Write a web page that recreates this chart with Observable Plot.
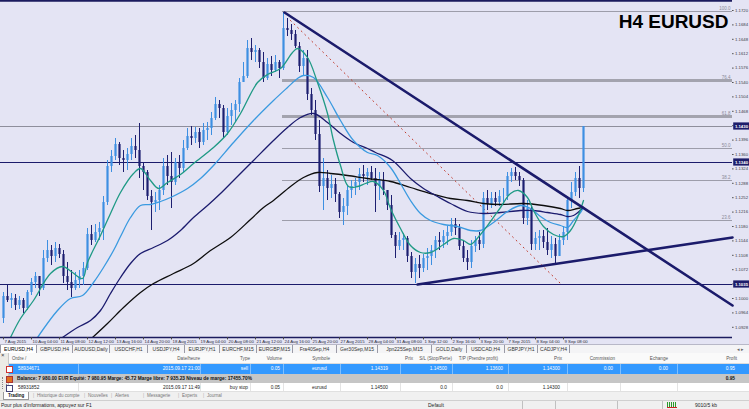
<!DOCTYPE html>
<html><head><meta charset="utf-8">
<script src="https://cdn.jsdelivr.net/npm/d3@7"></script>
<script src="https://cdn.jsdelivr.net/npm/@observablehq/plot@0.6"></script>
<style>
body{margin:0;width:749px;height:409px;overflow:hidden;background:#fff;font-family:"Liberation Sans",Arial,sans-serif;}
#chart svg{display:block}
.abs{position:absolute;white-space:nowrap}
#tabs{position:relative;height:9px;background:#f4f4f6;border-top:1px solid #b8b8c8;box-sizing:border-box;font-size:5px;color:#333}
.tab{position:absolute;top:0;height:8px;line-height:8px;border-right:1px solid #9a9aa6;text-align:center;box-sizing:border-box;overflow:hidden}
.tab.on{background:#fff;border-left:1px solid #9a9aa6;color:#000}
#term{position:relative;height:47px;background:#fff;font-size:4.8px;color:#222}
.side{position:absolute;left:0;top:0;width:8px;height:47px;background:#ecebe6;border-right:1px solid #c8c8c8}
.r{position:absolute;left:9px;right:0}
.hdr{top:0;height:11px;background:#fafafa;border-bottom:1px solid #dcdcdc;color:#555;line-height:11px;box-sizing:border-box;font-size:4.6px}
.sel{top:11px;height:10px;background:#3399ff;color:#fff;line-height:10px}
.bal{top:21px;height:9px;background:#c6c6c6;font-weight:bold;line-height:9px;color:#111}
.w3{top:30px;height:9px;background:#fff;line-height:9px;border-bottom:1px solid #e0e0e0;box-sizing:border-box}
.bt{top:39px;height:8px;background:#f0f0f0;line-height:8px;color:#777;font-size:4.5px}
.sep{position:absolute;top:0;bottom:0;width:1px}
#status{position:relative;height:9px;background:#f0f0f0;border-top:1px solid #d0d0d0;box-sizing:border-box;font-size:5px;line-height:8px;color:#222}
</style></head><body>
<div id="chart"></div>
<div id="tabs"></div>
<div id="term"></div>
<div id="status"></div>
<script>
// ---------- DATA ----------
const open0 = 1.0950;
const high = [1.1015,1.1035,1.10125,1.1010,1.1005,1.1000,1.1020,1.1050,1.1065,1.1055,
1.1120,1.1145,1.11325,1.1140,1.1135,1.1120,1.1090,1.1070,1.1065,1.1070,
1.1090,1.1175,1.11825,1.1185,1.1190,1.1255,1.1345,1.1370,1.1400,1.1390,
1.1370,1.1375,1.1400,1.14075,1.14375,1.1340,1.1320,1.1270,1.1265,1.12825,
1.1350,1.13575,1.1365,1.1350,1.13575,1.1395,1.1425,1.1430,1.14275,1.1425,
1.14375,1.1440,1.1465,1.15025,1.1495,1.14825,1.1475,1.14875,1.1495,1.1550,
1.1590,1.1645,1.1650,1.16325,1.1625,1.1615,1.1600,1.1605,1.16075,1.1595,
1.1715,1.1700,1.1685,1.1670,1.1640,1.1620,1.1620,1.1525,1.1495,1.1445,
1.1350,1.1320,1.13075,1.1300,1.1265,1.1250,1.12825,1.1295,1.1300,1.1325,
1.13325,1.1325,1.1330,1.1325,1.1315,1.1315,1.1270,1.12575,1.1165,1.1165,
1.11625,1.1155,1.1115,1.1100,1.11075,1.1110,1.1125,1.11325,1.1155,1.1165,
1.1170,1.1180,1.1200,1.1200,1.1185,1.1145,1.1120,1.1145,1.1155,1.1165,
1.1265,1.1270,1.1265,1.1265,1.1270,1.1275,1.1315,1.1325,1.13275,1.1315,
1.1300,1.1245,1.1230,1.1165,1.1170,1.1170,1.1175,1.1155,1.1150,1.1160,
1.1180,1.1255,1.1290,1.1315,1.1330,1.1430];
const low = [1.09375,1.0990,1.0975,1.0970,1.09725,1.09625,1.0970,1.10075,1.1025,1.1005,
1.1020,1.1090,1.10825,1.1090,1.1100,1.10375,1.1020,1.10025,1.1020,1.1025,
1.10325,1.1070,1.11325,1.1140,1.1145,1.1145,1.12325,1.1315,1.1345,1.13325,
1.1315,1.1320,1.1345,1.1350,1.1300,1.1270,1.1245,1.1170,1.1215,1.1220,
1.12575,1.12825,1.1225,1.12825,1.1300,1.1315,1.1370,1.13825,1.13875,1.1375,
1.13825,1.1395,1.14075,1.1445,1.1450,1.1400,1.14075,1.14325,1.1440,1.1465,
1.1540,1.1550,1.1595,1.1590,1.1575,1.1540,1.1545,1.1555,1.1565,1.1550,
1.1570,1.1655,1.1645,1.1625,1.1565,1.15575,1.1495,1.14575,1.1395,1.1265,
1.1220,1.1245,1.1250,1.1240,1.1200,1.11825,1.12075,1.1250,1.12575,1.1270,
1.1290,1.12825,1.1295,1.1215,1.1245,1.12575,1.1220,1.1150,1.1100,1.1120,
1.1120,1.1090,1.1050,1.10375,1.1050,1.1065,1.1070,1.10825,1.1100,1.1120,
1.1125,1.11325,1.1155,1.11575,1.1120,1.1090,1.1070,1.1075,1.1115,1.1120,
1.1125,1.1220,1.1225,1.1230,1.1230,1.1235,1.1245,1.1290,1.1295,1.1280,
1.1185,1.11825,1.1120,1.1120,1.1120,1.1125,1.11075,1.1100,1.10875,1.11075,
1.11325,1.1145,1.1225,1.1255,1.1250,1.1265];
const close = [1.1005,1.0995,1.1000,1.09825,1.0995,1.0975,1.1015,1.1040,1.1055,1.1025,
1.1100,1.1120,1.1105,1.1125,1.1110,1.1055,1.1040,1.1025,1.1045,1.1055,
1.1075,1.1160,1.1145,1.1165,1.1175,1.1240,1.1330,1.1355,1.1385,1.1350,
1.1345,1.1360,1.1380,1.1370,1.1330,1.1315,1.1255,1.1240,1.1245,1.1270,
1.1330,1.1305,1.1290,1.1340,1.1325,1.1375,1.1405,1.1400,1.1415,1.1390,
1.1420,1.1425,1.1450,1.1485,1.1475,1.1415,1.1455,1.1470,1.1485,1.1540,
1.1555,1.1625,1.1615,1.1620,1.1590,1.1550,1.1585,1.1570,1.1590,1.1575,
1.1675,1.1670,1.1660,1.1630,1.1580,1.1600,1.1510,1.1470,1.1410,1.1280,
1.1300,1.1275,1.1285,1.1260,1.1215,1.1230,1.1270,1.1280,1.1290,1.1310,
1.1305,1.1315,1.1300,1.1280,1.1295,1.1270,1.12325,1.11575,1.1130,1.1145,
1.1150,1.1105,1.1065,1.1085,1.1075,1.1100,1.1105,1.1120,1.1145,1.1140,
1.1155,1.1165,1.1185,1.1175,1.1130,1.1100,1.1090,1.1130,1.1145,1.1135,
1.1250,1.1235,1.1250,1.1240,1.1255,1.1255,1.1305,1.1315,1.1305,1.1295,
1.1200,1.1225,1.1135,1.1150,1.1155,1.1140,1.1120,1.1135,1.1105,1.1145,
1.1165,1.1245,1.1265,1.1300,1.1275,1.1430];

// moving averages: [bar index, price]
const maFast = [[1.75,1.09025],[4.25,1.0950],[7.5,1.0995],[11.75,1.10625],[14.75,1.1080],[17.25,1.1065],[19.75,1.1050],[21,1.1090],[24.25,1.11575],[26.75,1.12125],[29.25,1.1265],[32.5,1.13125],[34.25,1.1325],[36.75,1.1295],[38.75,1.1275],[41,1.1290],[44.25,1.1310],[47.5,1.13375],[52.5,1.13775],[56,1.14125],[59.25,1.14625],[63.5,1.1540],[66,1.1560],[69.25,1.1575],[72.25,1.1615],[73.5,1.1625],[76,1.16025],[78.5,1.1540],[81,1.14625],[82.5,1.1395],[84.25,1.13325],[86.25,1.1280],[88.5,1.1280],[90.5,1.12875],[92.5,1.12925],[95,1.1270],[96.75,1.1225],[99.25,1.1175],[101.75,1.11325],[104.25,1.1115],[106.75,1.1115],[110,1.1135],[112.5,1.1150],[115,1.1145],[116.75,1.1135],[119.25,1.1160],[121.75,1.11925],[124.25,1.12275],[126.75,1.12625],[128.75,1.1270],[131,1.12525],[132.5,1.1220],[135,1.1180],[137.5,1.1160],[140,1.1155],[141.75,1.1170],[143.5,1.12025],[145,1.1245]];
const maMid = [[8.5,1.09025],[13.5,1.0970],[16.75,1.1000],[19.75,1.10075],[22.5,1.1040],[25,1.10775],[27.5,1.1120],[29.25,1.1155],[31.75,1.12025],[34.25,1.12325],[36.75,1.1235],[39.25,1.12425],[41.75,1.12525],[46,1.1275],[49.25,1.1300],[52.5,1.13325],[57.5,1.1390],[62.5,1.1445],[67.5,1.1495],[71,1.15275],[73.5,1.1550],[75,1.15575],[77.5,1.15525],[81,1.15025],[84.25,1.1445],[87.5,1.1395],[91,1.1365],[93.5,1.13575],[96.75,1.13275],[99.25,1.12875],[101.75,1.1245],[104.25,1.12125],[106.75,1.1195],[110,1.1185],[113.5,1.1180],[116.75,1.1170],[119.25,1.1170],[122.5,1.1190],[126,1.12175],[129.25,1.12325],[131.75,1.1225],[134.25,1.1205],[136.75,1.1190],[139.25,1.11825],[141,1.11775],[142.5,1.1195],[144.25,1.1215],[145,1.12275]];
const maSlow = [[14.75,1.09025],[18.5,1.09275],[21.75,1.0945],[24.25,1.0970],[26.75,1.10125],[29.25,1.10525],[31.75,1.10875],[34.25,1.11125],[37.5,1.11275],[41,1.1145],[44.25,1.1170],[47.5,1.12025],[51,1.12325],[54.25,1.12625],[57.5,1.1295],[62.5,1.1345],[67.5,1.1395],[71,1.14275],[74.25,1.14525],[77.5,1.14625],[81,1.1440],[84.25,1.14125],[87.5,1.1390],[91,1.1375],[93,1.1365],[97.25,1.1345],[101.75,1.1300],[105,1.1275],[108.5,1.1255],[111.75,1.12375],[116,1.12175],[120,1.12125],[124.25,1.1215],[129.25,1.1220],[132.5,1.1220],[136,1.1215],[139.25,1.1210],[141,1.1205],[142.5,1.12075],[145,1.12275]];
const maLong = [[22.25,1.09025],[26,1.09375],[30,1.09775],[34.25,1.1015],[37.5,1.10375],[42.5,1.10625],[47.5,1.10875],[51.75,1.1120],[56.75,1.11525],[61.75,1.11975],[65,1.12275],[67.5,1.1245],[71.75,1.1280],[75,1.13025],[78.5,1.1315],[81.75,1.13125],[86,1.13075],[91,1.1300],[96.75,1.12925],[101.75,1.12775],[106.75,1.12625],[111.75,1.1250],[116,1.1245],[120,1.12375],[124.25,1.1235],[130,1.12375],[135,1.12325],[139.25,1.1225],[141,1.1220],[143.5,1.1225],[145,1.12275]];

const trendDown = [[70.25,1.1715],[182.25,1.09825]];
const trendUp = [[103.5,1.1035],[182.25,1.11525]];
const fanLine = [[71.75,1.1695],[139.25,1.10375]];

const fibLevels = [1.17175,1.1545,1.1455,1.1375,1.1295,1.1195];
const fibLabels = ["100.0","76.4","61.8","50.0","38.2","23.6"];
const fibStartBar = 69.75;
const bidPrice = 1.1430;
const hLines = [1.1340,1.1035];
const priceTicks = [1.1720,1.1684,1.1648,1.1612,1.1576,1.1540,1.1504,1.1468,1.1432,1.1396,1.1360,1.1324,1.1288,1.1252,1.1216,1.1180,1.1144,1.1108,1.1072,1.1036,1.1000,1.0964,1.0928];
const timeTickBars = [0,7,14,21,28,35,42,49,56,63,70,77,84,91,98,105,112,119,126,133,140];
const timeTickLabels = ["7 Aug 2015","10 Aug 04:00","11 Aug 08:00","12 Aug 12:00","13 Aug 16:00","14 Aug 20:00","18 Aug 2015","19 Aug 04:00","20 Aug 08:00","21 Aug 12:00","24 Aug 16:00","25 Aug 20:00","27 Aug 2015","28 Aug 04:00","31 Aug 08:00","1 Sep 12:00","2 Sep 16:00","3 Sep 20:00","7 Sep 2015","8 Sep 04:00","9 Sep 08:00"];
const chartTitle = "H4 EURUSD";

const symbolTabs = ["EURUSD,H4","GBPUSD,H4","AUDUSD,Daily","USDCHF,H1","USDJPY,H4","EURJPY,H1","EURCHF,M15","EURGBP,M15","Fra40Sep,H4","Ger30Sep,M15","Jpn225Sep,M15","GOLD,Daily","USDCAD,H4","GBPJPY,H1","CADJPY,H4"];
const headerTexts = ["Ordre  /","Date/heure","Type","Volume","Symbole","Prix","S/L (Stop/Perte)","T/P (Prendre profit)","Prix","Commission","Echange","Profit"];
const row1 = ["58934671","2015.09.17 21:00","sell","0.05","eurusd","1.14319","1.14500","1.13600","1.14300","0.00","0.00","0.95"];
const row3 = ["58931852","2015.09.17 11:49","buy stop","0.05","eurusd","1.14500","0.0","0.0","1.14300","","",""];
const balanceText = "Balance: 7 980.00 EUR  Equité: 7 980.95  Marge: 45.72  Marge libre: 7 935.23  Niveau de marge: 17455.70%";
const balanceProfit = "0.95";
const bottomTabs = ["Trading","Historique du compte","Nouvelles","Alertes","Messagerie","Experts","Journal"];
const statusTexts = ["Pour plus d'informations, appuyez sur F1","Default","9010/5 kb"];

// ---------- CHART ----------
const BG = "#E4E4F4", UP = "#3d8fe2", DOWN = "#1d1f70", NAVY = "#1b1b6b";
const bars = high.map((h, i) => ({i, high: h, low: low[i], close: close[i], open: i === 0 ? open0 : close[i - 1]}));
const upBars = bars.filter(d => d.close >= d.open);
const downBars = bars.filter(d => d.close < d.open);
const xMin = -0.75, xMax = 182.25, yMin = 1.09025, yMax = 1.1745;
const thick = new Set(["76.4","61.8"]);
const fib = fibLevels.map((v, i) => ({v, label: fibLabels[i]}));
const P = d => d[0], V = d => d[1];

const chart = Plot.plot({
  width: 749, height: 344,
  marginLeft: 0, marginRight: 17, marginTop: 0, marginBottom: 7,
  x: {domain: [xMin, xMax], axis: null},
  y: {domain: [yMin, yMax], axis: null},
  style: {background: BG, fontFamily: "Liberation Sans, Arial, sans-serif", overflow: "hidden"},
  marks: [
    Plot.ruleY(fib.filter(d => !thick.has(d.label)), {y: "v", x1: fibStartBar, x2: xMax, stroke: "#9d9daa", strokeWidth: 1}),
    Plot.ruleY(fib.filter(d => thick.has(d.label)), {y: "v", x1: fibStartBar, x2: xMax, stroke: "#a3a3ae", strokeWidth: 3}),
    Plot.ruleY([bidPrice], {stroke: "#8e8e9c", strokeWidth: 1}),
    Plot.ruleY(hLines, {stroke: NAVY, strokeWidth: 1.2}),
    Plot.line(fanLine, {x: P, y: V, stroke: "#c0392b", strokeWidth: 1, strokeDasharray: "1,4"}),
    Plot.ruleX(upBars, {x: "i", y1: "low", y2: "high", stroke: UP, strokeWidth: 1}),
    Plot.ruleX(downBars, {x: "i", y1: "low", y2: "high", stroke: DOWN, strokeWidth: 1}),
    Plot.ruleX(upBars, {x: "i", y1: "open", y2: "close", stroke: UP, strokeWidth: 2.2}),
    Plot.ruleX(downBars, {x: "i", y1: "open", y2: "close", stroke: DOWN, strokeWidth: 2.2}),
    Plot.line(maLong, {x: P, y: V, stroke: "#0d0d0d", strokeWidth: 1.3, curve: "catmull-rom", clip: true}),
    Plot.line(maSlow, {x: P, y: V, stroke: "#1b1b6e", strokeWidth: 1.3, curve: "catmull-rom", clip: true}),
    Plot.line(maMid, {x: P, y: V, stroke: "#3a9ae0", strokeWidth: 1.3, curve: "catmull-rom", clip: true}),
    Plot.line(maFast, {x: P, y: V, stroke: "#1f9a85", strokeWidth: 1.3, curve: "catmull-rom", clip: true}),
    Plot.line(trendDown, {x: P, y: V, stroke: NAVY, strokeWidth: 2.6}),
    Plot.line(trendUp, {x: P, y: V, stroke: NAVY, strokeWidth: 2.6}),
    Plot.ruleY([yMin], {stroke: "#1b1b5e", strokeWidth: 1.5}),
    Plot.ruleY([yMax], {stroke: "#1b1b5e", strokeWidth: 2.5}),
    Plot.text(fib, {x: xMax, y: "v", text: "label", dx: -2, dy: -3, textAnchor: "end", fontSize: 4.5, fill: "#8a8a98"}),
    Plot.ruleY(priceTicks, {x1: xMax, x2: xMax + 0.4, stroke: "#555"}),
    Plot.text(priceTicks, {x: xMax, y: d => d, text: d => d.toFixed(4), dx: 2.5, textAnchor: "start", fontSize: 4.3, fill: "#3a3a48"}),
    Plot.rect([bidPrice, ...hLines], {x1: xMax + 0.3, x2: xMax + 4.25, y1: d => d - 0.0009, y2: d => d + 0.0009, fill: "#1d1d6a"}),
    Plot.text([bidPrice, ...hLines], {x: xMax + 0.3, y: d => d, text: d => d.toFixed(4), dx: 1.2, textAnchor: "start", fontSize: 4.3, fill: "#fff", fontWeight: "bold"}),
    Plot.ruleX(timeTickBars, {x: d => d, y1: yMin, y2: yMin - 0.0006, stroke: "#444"}),
    Plot.text(timeTickBars, {x: d => d, y: yMin, text: (d, i) => timeTickLabels[i], dx: 1, dy: 3.8, textAnchor: "start", lineAnchor: "middle", fontSize: 4.3, fill: "#2a2a3a"}),
    Plot.text([chartTitle], {frameAnchor: "top-right", text: d => d, dx: -4, dy: 21, textAnchor: "end", lineAnchor: "middle", fontSize: 19, fontWeight: "bold", fill: "#000"})
  ]
});
document.getElementById("chart").appendChild(chart);

// ---------- TERMINAL (HTML) ----------
const tabX = [0,37,73,110,148,185,220,257,293,337,378,432,467,505,538,570];
document.getElementById("tabs").innerHTML =
  symbolTabs.map((t, i) => `<div class="tab${i === 0 ? " on" : ""}" style="left:${tabX[i]}px;width:${tabX[i+1]-tabX[i]}px">${t}</div>`).join("") +
  `<div class="abs" style="left:737px;top:0;line-height:8px;color:#666">◂ ▸</div>`;

const cell = (t, x, a) => a === "l"
  ? `<span class="abs" style="left:${x - 9}px">${t}</span>`
  : `<span class="abs" style="right:${749 - x}px">${t}</span>`;
const hdrPos = [[12,"l"],[200,"r"],[250,"r"],[282,"r"],[330,"r"],[413,"r"],[452,"r"],[498,"r"],[562,"r"],[615,"r"],[668,"r"],[737,"r"]];
const rowPos = [[18,"l"],[200,"r"],[248,"r"],[280,"r"],[312,"l"],[388,"r"],[447,"r"],[503,"r"],[560,"r"],[613,"r"],[668,"r"],[735,"r"]];
const seps = [78,200,250,283,340,400,452,508,567,620,677];
const sepHtml = col => seps.map(x => `<div class="sep" style="left:${x - 9}px;background:${col}"></div>`).join("");
const icon = (c1, c2) => `<span class="abs" style="left:-3px;top:2px;width:5px;height:5px;background:${c1};border:1px solid ${c2}"></span>`;

const btX = [3,37,88,115,147,182,207];
document.getElementById("term").innerHTML = `
<div class="side"><div class="abs" style="left:1px;top:-1px;font-size:6px;color:#333">×</div>
<div class="abs" style="left:2px;top:24px;width:3px;height:12px;border-left:1px dotted #888;border-right:1px dotted #888"></div></div>
<div class="r hdr">${headerTexts.map((t, i) => cell(t, hdrPos[i][0], hdrPos[i][1])).join("")}</div>
<div class="r sel">${sepHtml("#7fbfff")}${icon("#fff","#c33")}${row1.map((t, i) => cell(t, rowPos[i][0], rowPos[i][1])).join("")}</div>
<div class="r bal">${icon("#e07020","#a33")}<span class="abs" style="left:8px;font-size:4.8px">${balanceText}</span>${cell(balanceProfit, 735, "r")}</div>
<div class="r w3">${sepHtml("#e4e4e4")}${icon("#fff","#447")}${row3.map((t, i) => cell(t, rowPos[i][0], rowPos[i][1])).join("")}</div>
<div class="r bt">
${bottomTabs.map((t, i) => {
  const x = btX[i] - 9;
  return i === 0
    ? `<span class="abs" style="left:${x}px;top:0;height:7px;padding:0 4px;background:#fff;border:1px solid #999;border-top:none;color:#111;font-weight:bold">${t}</span>`
    : `<span class="abs" style="left:${x - 4}px;color:#aaa">|</span><span class="abs" style="left:${x}px">${t}</span>`;
}).join("")}
</div>`;

document.getElementById("status").innerHTML =
  `<span class="abs" style="left:1px">${statusTexts[0]}</span>` +
  `<span class="abs" style="left:428px">${statusTexts[1]}</span>` +
  [522,555,617,662].map(x => `<div class="sep" style="left:${x}px;background:#c0c0c0"></div>`).join("") +
  `<span class="abs" style="left:667px;top:1px;width:10px;height:5px;background:repeating-linear-gradient(90deg,#2a9a2a 0 1px,transparent 1px 2px);border-bottom:1px solid #c22"></span>` +
  `<span class="abs" style="left:695px">${statusTexts[2]}</span>`;
</script>
</body></html>
